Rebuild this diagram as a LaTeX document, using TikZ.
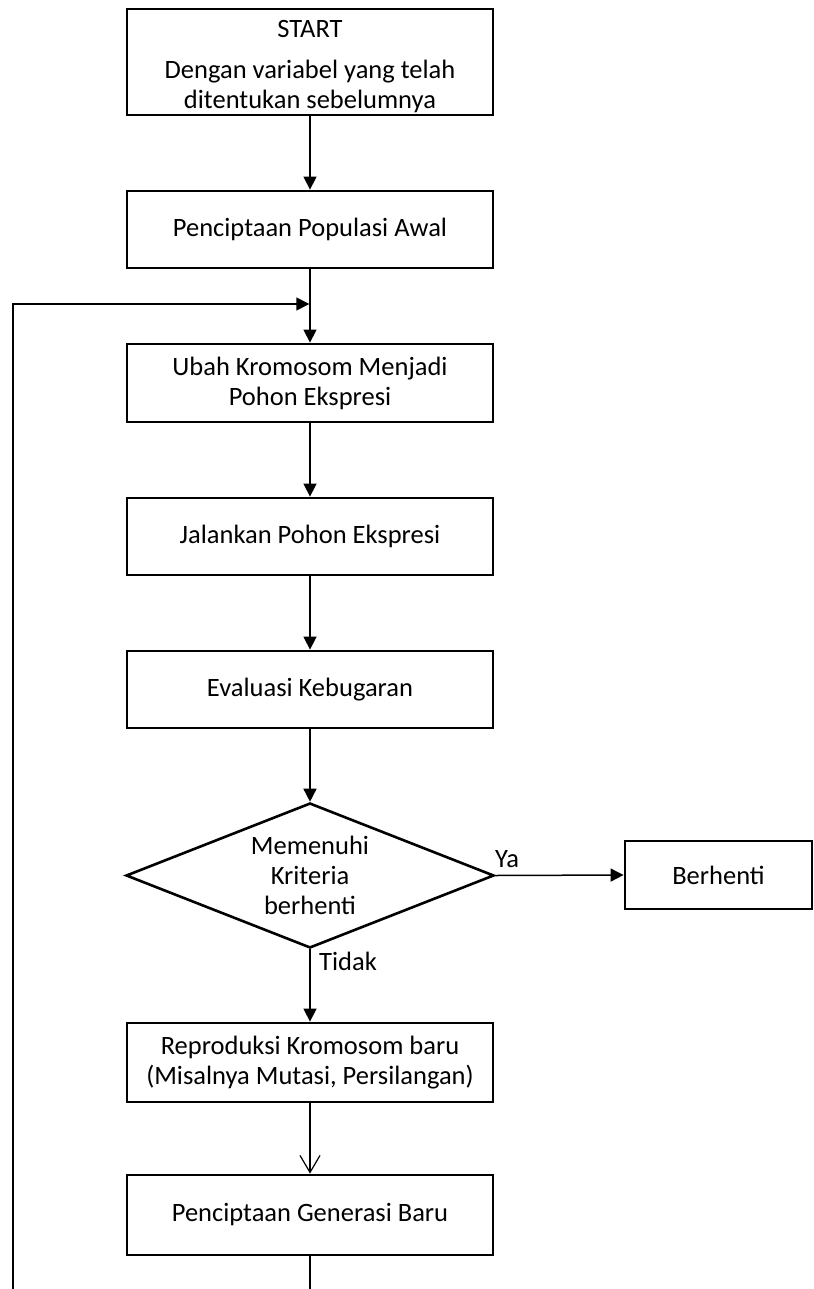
\documentclass[tikz,border=0pt]{standalone}
\usepackage{fontspec}
\setmainfont{Carlito}
\usetikzlibrary{arrows.meta,shapes.geometric}
\begin{document}
\begin{tikzpicture}[x=1pt,y=-1pt,
  txt/.style={font=\fontsize{26.5}{30}\selectfont, text=black},
  procbox/.style={draw, rectangle, line width=2.8pt, minimum width=366pt,
    inner sep=0pt, align=center, txt},
  decision/.style={draw, diamond, shape aspect=2.538, line width=2.6pt,
    minimum width=368pt, minimum height=145pt, inner sep=0pt, align=center, txt},
  flow/.style={line width=1.5pt, -{Triangle[length=13pt,width=13pt]}},
  openflow/.style={line width=1.5pt, -{Straight Barb[length=17pt,width=20pt,line width=1.2pt]}},
  lbl/.style={txt, inner sep=0pt}
]
\useasboundingbox (0,0) rectangle (813,1289);

% main column of steps
\node[procbox, minimum height=106pt] (start) at (310,62) {};
\node[txt, align=center, inner sep=0pt] (starttext) at (310,67)
  {START\\[11pt]Dengan variabel yang telah\\ditentukan sebelumnya};
\node[procbox, minimum height=77pt] (init) at (310,229.5) {Penciptaan Populasi Awal};
\node[procbox, minimum height=78pt] (tree) at (310,383)
  {Ubah Kromosom Menjadi\\Pohon Ekspresi};
\node[procbox, minimum height=77pt] (run) at (310,536.5) {Jalankan Pohon Ekspresi};
\node[procbox, minimum height=77pt] (eval) at (310,689.5) {Evaluasi Kebugaran};
\node[decision] (crit) at (310,875.5) {Memenuhi\\Kriteria\\berhenti};
\node[procbox, minimum height=79pt] (repro) at (310,1062.5)
  {Reproduksi Kromosom baru\\(Misalnya Mutasi, Persilangan)};
\node[procbox, minimum height=80pt] (gen) at (310,1215) {Penciptaan Generasi Baru};

% stop branch
\node[procbox, minimum width=187pt, minimum height=68pt] (stop) at (718.5,875) {Berhenti};

% loop-back route
\coordinate (loopB) at (310,1289.2);
\coordinate (loopL) at (13,1289.2);
\coordinate (loopT) at (13,304);
\coordinate (join) at (309.3,304);

% connectors
\draw[flow] (start) -- (init);
\draw[flow] (init) -- (tree);
\draw[flow] (tree) -- (run);
\draw[flow] (run) -- (eval);
\draw[flow] (eval) -- (crit);
\draw[flow] (crit.east) -- (stop.west);
\draw[flow] (crit) -- (repro);
\draw[openflow] (repro) -- (gen);
\draw[line width=1.5pt] (gen.south) -- (loopB);
\draw[line width=1.2pt] (loopB) -- (loopL);
\draw[flow] (loopL) -- (loopT) -- (join);

% branch labels
\node[lbl, anchor=base west] (ya) at (495,867) {Ya};
\node[lbl, anchor=base west] (tidak) at (319,970) {Tidak};
\end{tikzpicture}
\end{document}
